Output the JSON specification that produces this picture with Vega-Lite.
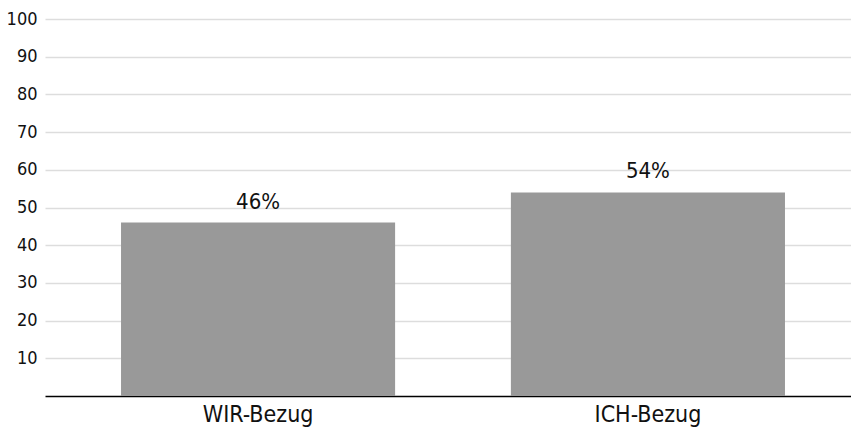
{
  "$schema": "https://vega.github.io/schema/vega-lite/v6.json",
  "width": 806,
  "height": 377,
  "autosize": "none",
  "padding": {"left": 45, "top": 19, "right": 0, "bottom": 36},
  "background": "white",
  "config": {"view": {"stroke": null}, "font": "DejaVu Sans Condensed, Roboto, sans-serif"},
  "data": {"values": [
    {"kategorie": "WIR-Bezug", "wert": 46, "label": "46%"},
    {"kategorie": "ICH-Bezug", "wert": 54, "label": "54%"}
  ]},
  "encoding": {
    "x": {"field": "kategorie", "type": "nominal", "sort": null,
      "scale": {"range": [0, 816], "paddingInner": 0.297, "paddingOuter": 0.195},
      "axis": {"title": null, "labelAngle": 0, "labelFontSize": 23, "labelColor": "#111", "ticks": false, "labelPadding": 7, "domainColor": "#000", "domainWidth": 1.5}},
    "y": {"field": "wert", "type": "quantitative",
      "scale": {"domain": [0, 100]},
      "axis": {"title": null, "values": [10,20,30,40,50,60,70,80,90,100], "labelFontSize": 18, "labelColor": "#111", "ticks": false, "labelPadding": 8, "domain": false, "gridColor": "#dddddd", "gridWidth": 1.5}}
  },
  "layer": [
    {"mark": {"type": "bar", "color": "#999999"}},
    {"mark": {"type": "text", "dy": -9, "fontSize": 22, "color": "#111", "baseline": "bottom"},
     "encoding": {"text": {"field": "label"}}}
  ]
}
